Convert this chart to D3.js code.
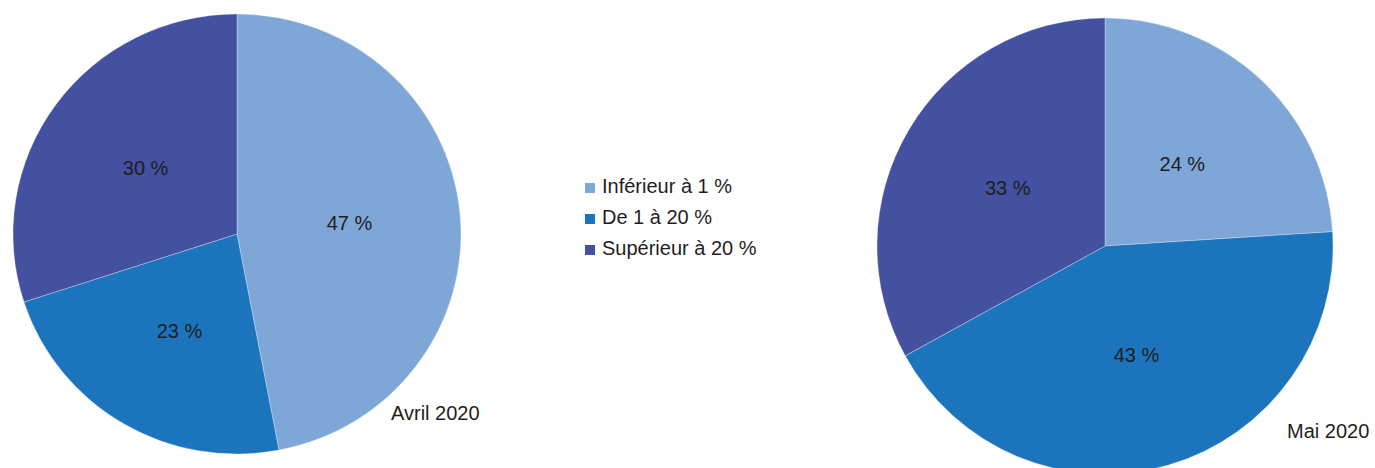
<!DOCTYPE html>
<html>
<head>
<meta charset="utf-8">
<script src="https://cdn.jsdelivr.net/npm/d3@7"></script>
<style>
  body { margin: 0; background: #ffffff; }
  svg { display: block; font-family: "Liberation Sans", Arial, sans-serif; }
</style>
</head>
<body>
<div id="chart"></div>
<script>
//========================
//   Data
//========================
var categories = ["Inférieur à 1 %", "De 1 à 20 %", "Supérieur à 20 %"];
var avrilValues = [47, 23, 30];
var maiValues = [24, 43, 33];
var periods = ["Avril 2020", "Mai 2020"];

var colors = ["#7ea7d8", "#1c75bc", "#4450a0"];

//========================
//   Canvas
//========================
var width = 1375, height = 468;

var svg = d3.select("#chart").append("svg")
  .attr("width", width)
  .attr("height", height);

var color = d3.scaleOrdinal().domain(categories).range(colors);

var pie = d3.pie().sort(null).value(function(d) { return d.value; });

//Draws one pie, cx/cy = center, rx/ry = radii (the left one is slightly stretched)
function drawPie(values, cx, cy, rx, ry, title, titleX, titleY) {
  var data = categories.map(function(c, i) { return { cat: c, value: values[i] }; });
  var arcs = pie(data);
  var arc = d3.arc().innerRadius(0).outerRadius(ry);
  var labelArc = d3.arc().innerRadius(0).outerRadius(113 * 2);

  var g = svg.append("g")
    .attr("transform", "translate(" + cx + "," + cy + ") scale(" + (rx / ry) + ",1)");

  g.selectAll("path")
    .data(arcs)
    .enter().append("path")
    .attr("d", arc)
    .attr("fill", function(d) { return color(d.data.cat); })
    .attr("stroke", "#ffffff")
    .attr("stroke-opacity", 0.5)
    .attr("stroke-width", 0.6);

  //Percent labels at the middle of each slice
  svg.append("g")
    .attr("transform", "translate(" + cx + "," + cy + ")")
    .selectAll("text")
    .data(arcs)
    .enter().append("text")
    .attr("x", function(d) { return labelArc.centroid(d)[0]; })
    .attr("y", function(d) { return labelArc.centroid(d)[1]; })
    .attr("dy", "0.35em")
    .attr("text-anchor", "middle")
    .attr("font-size", 20)
    .attr("fill", "#1e1e1e")
    .text(function(d) { return d.data.value + " %"; });

  //Period title
  svg.append("text")
    .attr("x", titleX)
    .attr("y", titleY)
    .attr("font-size", 20)
    .attr("fill", "#1e1e1e")
    .text(title);
}

drawPie(avrilValues, 237, 234, 224, 220, periods[0], 391, 420);
drawPie(maiValues, 1105, 246, 228, 228, periods[1], 1287, 438);

//========================
//   Legend
//========================
var legend = svg.append("g").attr("transform", "translate(585,0)");

var rows = legend.selectAll("g")
  .data(categories)
  .enter().append("g")
  .attr("transform", function(d, i) { return "translate(0," + (186 + i * 31) + ")"; });

rows.append("rect")
  .attr("x", 0)
  .attr("y", -3)
  .attr("width", 10)
  .attr("height", 10)
  .attr("fill", function(d) { return color(d); });

rows.append("text")
  .attr("x", 17)
  .attr("y", 0)
  .attr("dy", "0.35em")
  .attr("font-size", 20)
  .attr("fill", "#1e1e1e")
  .text(function(d) { return d; });
</script>
</body>
</html>
